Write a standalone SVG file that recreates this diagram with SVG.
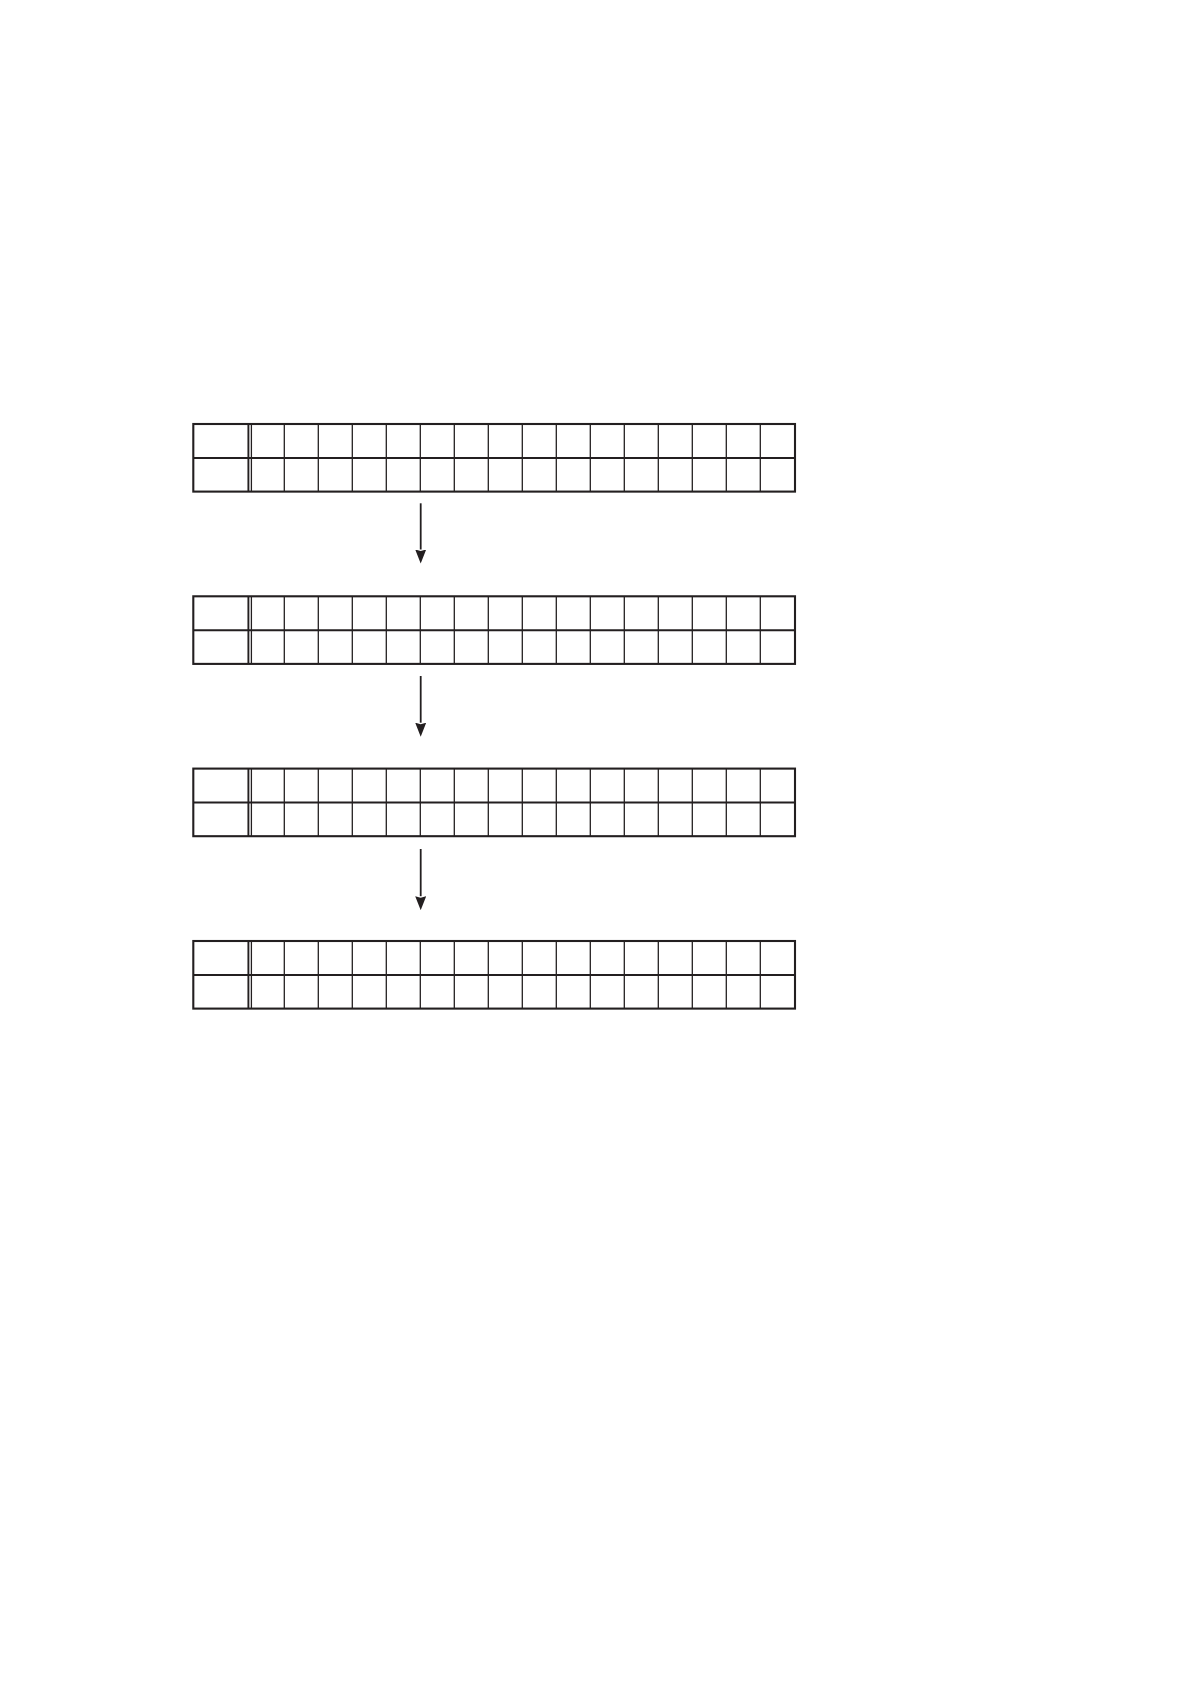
<svg xmlns="http://www.w3.org/2000/svg" xmlns:xlink="http://www.w3.org/1999/xlink" width="1191" height="1684" viewBox="0 0 1191 1684">
  <style>
    .outer { fill: none; stroke: #231f20; stroke-width: 2.1; }
    .mid { stroke: #231f20; stroke-width: 2; }
    .sep { stroke: #231f20; stroke-width: 1.9; }
    .thin { stroke: #231f20; stroke-width: 1.3; }
    .conn { stroke: #231f20; stroke-width: 1.8; fill: none; }
  </style>
  <defs>
    <marker id="arrow" markerUnits="userSpaceOnUse" viewBox="0 0 14 11" refX="0" refY="5.5" markerWidth="14" markerHeight="11" orient="auto">
      <path d="M0,0 L14,5.5 L0,11 L1.5,5.5 Z" fill="#231f20"/>
    </marker>
    <g id="table">
      <line class="thin" x1="251.4" y1="0" x2="251.4" y2="67.6"/>
      <line class="thin" x1="284.3" y1="0" x2="284.3" y2="67.6"/>
      <line class="thin" x1="318.3" y1="0" x2="318.3" y2="67.6"/>
      <line class="thin" x1="352.3" y1="0" x2="352.3" y2="67.6"/>
      <line class="thin" x1="386.3" y1="0" x2="386.3" y2="67.6"/>
      <line class="thin" x1="420.3" y1="0" x2="420.3" y2="67.6"/>
      <line class="thin" x1="454.3" y1="0" x2="454.3" y2="67.6"/>
      <line class="thin" x1="488.3" y1="0" x2="488.3" y2="67.6"/>
      <line class="thin" x1="522.3" y1="0" x2="522.3" y2="67.6"/>
      <line class="thin" x1="556.3" y1="0" x2="556.3" y2="67.6"/>
      <line class="thin" x1="590.3" y1="0" x2="590.3" y2="67.6"/>
      <line class="thin" x1="624.3" y1="0" x2="624.3" y2="67.6"/>
      <line class="thin" x1="658.3" y1="0" x2="658.3" y2="67.6"/>
      <line class="thin" x1="692.3" y1="0" x2="692.3" y2="67.6"/>
      <line class="thin" x1="726.3" y1="0" x2="726.3" y2="67.6"/>
      <line class="thin" x1="760.3" y1="0" x2="760.3" y2="67.6"/>
      <line class="mid" x1="193.3" y1="33.9" x2="795" y2="33.9"/>
      <line class="sep" x1="248.4" y1="0" x2="248.4" y2="67.6"/>
      <rect class="outer" x="193.3" y="0" width="601.7" height="67.6"/>
    </g>
  </defs>
  <g id="table1"><use xlink:href="#table" href="#table" y="424"/></g>
  <g id="table2"><use xlink:href="#table" href="#table" y="596.3"/></g>
  <g id="table3"><use xlink:href="#table" href="#table" y="768.6"/></g>
  <g id="table4"><use xlink:href="#table" href="#table" y="941"/></g>
  <g id="connectors">
    <line class="conn" x1="420.7" y1="503.3" x2="420.7" y2="549.5" marker-end="url(#arrow)"/>
    <line class="conn" x1="420.7" y1="676" x2="420.7" y2="722.7" marker-end="url(#arrow)"/>
    <line class="conn" x1="420.7" y1="849" x2="420.7" y2="896.2" marker-end="url(#arrow)"/>
  </g>
</svg>
